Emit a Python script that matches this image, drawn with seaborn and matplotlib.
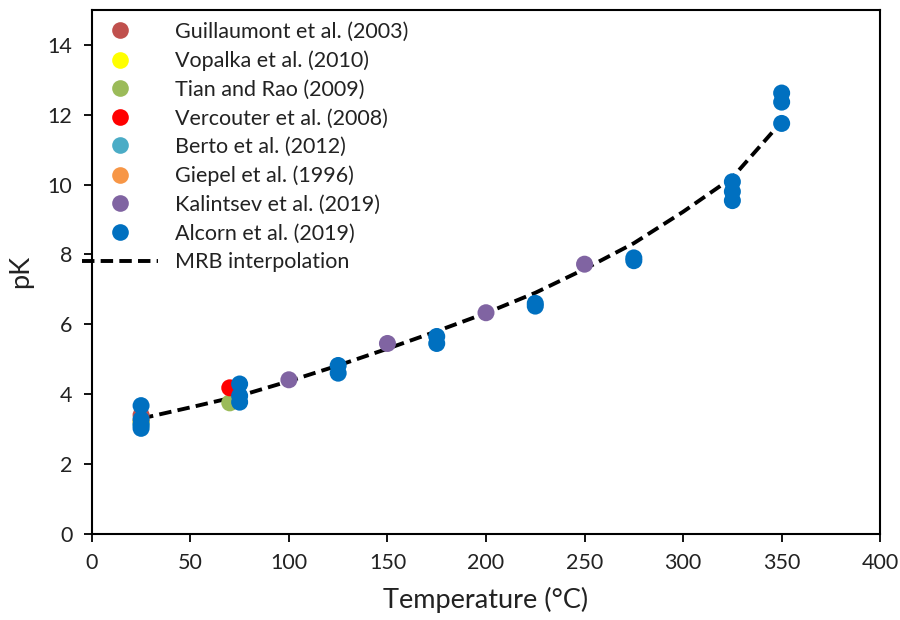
import matplotlib
matplotlib.use("Agg")
import matplotlib.pyplot as plt
import seaborn as sns
import pandas as pd
from matplotlib.lines import Line2D

# ---- data ----
series_names = ["Guillaumont et al. (2003)", "Vopalka et al. (2010)", "Tian and Rao (2009)",
                "Vercouter et al. (2008)", "Berto et al. (2012)", "Giepel et al. (1996)",
                "Kalintsev et al. (2019)", "Alcorn et al. (2019)"]
series_colors = ["#C0504D", "#FFFF00", "#9BBB59", "#FF0000", "#4BACC6", "#F79646",
                 "#8064A2", "#0070C0"]

guillaumont_T = [25]
guillaumont_pK = [3.4]
vopalka_T = [25]
vopalka_pK = [3.2]
tian_T = [70]
tian_pK = [3.75]
vercouter_T = [70]
vercouter_pK = [4.18]
berto_T = [25]
berto_pK = [3.1]
giepel_T = [25]
giepel_pK = [3.25]
kalintsev_T = [100, 150, 200, 250]
kalintsev_pK = [4.41, 5.45, 6.33, 7.72]
alcorn_T = [25, 25, 25, 25, 75, 75, 75, 125, 125, 175, 175, 225, 225, 275, 275,
            325, 325, 325, 350, 350, 350]
alcorn_pK = [3.67, 3.28, 3.14, 3.02, 4.29, 3.95, 3.77, 4.82, 4.60, 5.65, 5.45,
             6.60, 6.52, 7.90, 7.82, 10.08, 9.80, 9.54, 12.62, 12.36, 11.75]

mrb_T = [25, 50, 75, 100, 125, 150, 175, 200, 225, 250, 275, 300, 325, 350]
mrb_pK = [3.30, 3.62, 3.95, 4.37, 4.82, 5.30, 5.80, 6.32, 6.90, 7.58, 8.32, 9.22, 10.20, 11.80]

x_ticks = [0, 50, 100, 150, 200, 250, 300, 350, 400]
y_ticks = [0, 2, 4, 6, 8, 10, 12, 14]

# ---- build table ----
all_T = [guillaumont_T, vopalka_T, tian_T, vercouter_T, berto_T, giepel_T, kalintsev_T, alcorn_T]
all_pK = [guillaumont_pK, vopalka_pK, tian_pK, vercouter_pK, berto_pK, giepel_pK, kalintsev_pK, alcorn_pK]
rows = []
for name, ts, ps in zip(series_names, all_T, all_pK):
    for t, p in zip(ts, ps):
        rows.append({"T": t, "pK": p, "source": name})
df = pd.DataFrame(rows)
mrb_df = pd.DataFrame({"T": mrb_T, "pK": mrb_pK})

sns.set_theme(style="white")
plt.rcParams["font.family"] = ["Lato", "DejaVu Sans"]

fig = plt.figure(figsize=(9, 6.2), dpi=100)
ax = fig.add_axes([0.102, 0.139, 0.876, 0.845])

palette = dict(zip(series_names, series_colors))
sns.lineplot(data=mrb_df, x="T", y="pK", ax=ax, color="black", linewidth=2.8,
             linestyle=(0, (3.2, 1.6)), zorder=2)
sns.scatterplot(data=df, x="T", y="pK", hue="source", palette=palette,
                hue_order=series_names, s=150, linewidth=0, ax=ax, legend=False, zorder=3)

ax.set_xlim(0, 400)
ax.set_ylim(0, 15)
ax.set_xticks(x_ticks)
ax.set_yticks(y_ticks)
ax.tick_params(axis="both", which="major", direction="out", length=6, width=1.3,
               labelsize=15.5, color="black", labelcolor="#222222", pad=8,
               bottom=True, left=True)
for sp in ax.spines.values():
    sp.set_color("black")
    sp.set_linewidth(1.5)
ax.set_xlabel("Temperature (°C)", fontsize=19.5, color="#222222", labelpad=10)
ax.set_ylabel("pK", fontsize=19.5, color="#222222", labelpad=10)

handles = [Line2D([0], [0], marker="o", linestyle="none", markersize=12,
                  markerfacecolor=c, markeredgewidth=0) for c in series_colors]
handles.append(Line2D([0], [0], color="black", linewidth=2.8, linestyle=(0, (3.2, 1.6))))
labels = series_names + ["MRB interpolation"]
leg = ax.legend(handles, labels, loc="upper left", bbox_to_anchor=(-0.012, 0.977),
                frameon=False, fontsize=15.5, handlelength=3.5, handletextpad=0.8,
                labelspacing=0.4, borderpad=0, borderaxespad=0)
for t in leg.get_texts():
    t.set_color("#222222")

fig.savefig("out.png", dpi=100)
